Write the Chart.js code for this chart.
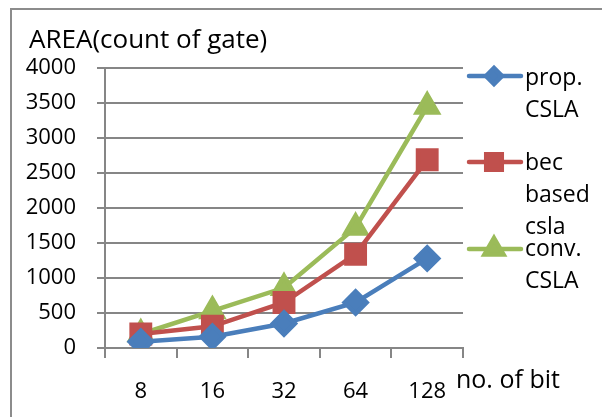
<!DOCTYPE html>
<html>
<head>
<meta charset="utf-8">
<script src="https://cdn.jsdelivr.net/npm/chart.js@4/dist/chart.umd.min.js"></script>
<style>
  html, body { margin: 0; padding: 0; background: #fff; }
  #wrap { width: 602px; height: 417px; }
</style>
</head>
<body>
<div id="wrap"><canvas id="graf" width="602" height="417"></canvas></div>
<script>
// data
const bits = ["8", "16", "32", "64", "128"]
const propCSLA = [90, 160, 350, 650, 1280]
const becCSLA = [200, 310, 650, 1340, 2690]
const convCSLA = [200, 530, 860, 1720, 3450]
const seriesNames = ["prop. CSLA", "bec based csla", "conv. CSLA"]
const yTitle = "AREA(count of gate)"
const xTitle = "no. of bit"

const FONT = "'Open Sans', 'Liberation Sans', sans-serif"
const gridGray = "#868686"

// legend on the right, one word per line like the original
const extras = {
  id: "extras",
  afterDraw(chart) {
    const ctx = chart.ctx
    ctx.save()
    // outer frame (only top/left are visible)
    ctx.strokeStyle = "#8c8c8c"
    ctx.lineWidth = 2
    ctx.beginPath()
    ctx.moveTo(11, 430)
    ctx.lineTo(11, 9)
    ctx.lineTo(620, 9)
    ctx.stroke()

    ctx.fillStyle = "#000"
    ctx.textBaseline = "alphabetic"
    ctx.textAlign = "left"
    ctx.font = "26px " + FONT
    ctx.fillText(yTitle, 29, 48)
    ctx.font = "25px " + FONT
    ctx.fillText(xTitle, 456, 388)

    const lineY = [76, 162, 249]
    const textY = [85, 170, 256]
    const legendRadius = [8, 11, 11]
    chart.data.datasets.forEach((ds, i) => {
      const y = lineY[i]
      ctx.strokeStyle = ds.borderColor
      ctx.lineWidth = 4.5
      ctx.lineCap = "round"
      ctx.beginPath()
      ctx.moveTo(469, y)
      ctx.lineTo(521, y)
      ctx.stroke()
      ctx.fillStyle = ds.backgroundColor
      ctx.strokeStyle = ds.borderColor
      Chart.helpers.drawPoint(ctx, {
        pointStyle: ds.pointStyle,
        radius: legendRadius[i],
        borderWidth: 1,
        rotation: 0
      }, 494, y)
      ctx.fillStyle = "#000"
      ctx.font = "23px " + FONT
      const words = ds.label.split(" ")
      words.forEach((w, k) => {
        ctx.fillText(w, 525, textY[i] + k * 32)
      })
    })
    ctx.restore()
  }
}

new Chart(document.getElementById("graf"), {
  type: "line",
  data: {
    labels: bits,
    datasets: [
      {
        label: seriesNames[0],
        data: propCSLA,
        borderColor: "#4a7ebb",
        backgroundColor: "#4a7ebb",
        borderWidth: 4.5,
        pointStyle: "rectRot",
        pointRadius: 11,
        pointHoverRadius: 11
      },
      {
        label: seriesNames[1],
        data: becCSLA,
        borderColor: "#c0504d",
        backgroundColor: "#c0504d",
        borderWidth: 4.5,
        pointStyle: "rect",
        pointRadius: 13,
        pointHoverRadius: 13
      },
      {
        label: seriesNames[2],
        data: convCSLA,
        borderColor: "#9bbb59",
        backgroundColor: "#9bbb59",
        borderWidth: 4.5,
        pointStyle: "triangle",
        pointRadius: 12,
        pointHoverRadius: 12
      }
    ]
  },
  options: {
    responsive: false,
    animation: false,
    layout: { padding: { left: 0, right: 139, top: 68, bottom: 0 } },
    plugins: {
      legend: { display: false },
      title: { display: false },
      tooltip: { enabled: false }
    },
    scales: {
      x: {
        offset: true,
        grid: {
          offset: true,
          drawOnChartArea: false,
          color: gridGray,
          lineWidth: 2,
          tickLength: 10
        },
        border: { display: true, color: gridGray, width: 2 },
        ticks: { color: "#000", font: { family: FONT, size: 22 }, padding: 21, maxRotation: 0 },
        afterFit(scale) { scale.height = 69 }
      },
      y: {
        min: 0,
        max: 4000,
        ticks: {
          stepSize: 500,
          color: "#000",
          font: { family: FONT, size: 22 },
          padding: 21,
          callback: (v) => String(v)
        },
        grid: { color: gridGray, lineWidth: 2, tickLength: 8 },
        border: { display: true, color: gridGray, width: 2 },
        afterFit(scale) { scale.width = 105 }
      }
    }
  },
  plugins: [extras]
})
</script>
</body>
</html>
